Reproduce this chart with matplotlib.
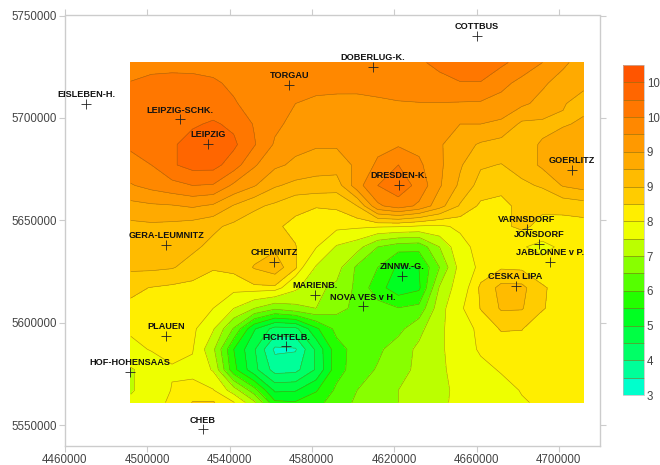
import numpy as np
import matplotlib
matplotlib.use("Agg")
import matplotlib.pyplot as plt
from matplotlib.colors import BoundaryNorm, ListedColormap

plt.rcParams['font.family'] = ['Liberation Sans', 'DejaVu Sans']

# Station positions
station_names = ["COTTBUS", "DOBERLUG-K.", "TORGAU", "EISLEBEN-H.", "LEIPZIG-SCHK.", "LEIPZIG",
                 "GOERLITZ", "DRESDEN-K.", "VARNSDORF", "JONSDORF", "JABLONNE v P.", "GERA-LEUMNITZ",
                 "CHEMNITZ", "ZINNW.-G.", "CESKA LIPA", "MARIENB.", "NOVA VES v H.", "PLAUEN",
                 "FICHTELB.", "HOF-HOHENSAAS", "CHEB"]
station_x = [4660000, 4609500, 4569000, 4470200, 4516100, 4529500,
             4706400, 4622500, 4684500, 4690400, 4695500, 4509300,
             4561600, 4623800, 4679000, 4581500, 4604800, 4509300,
             4567600, 4491600, 4527000]
station_y = [5740000, 5725000, 5716300, 5706800, 5699300, 5687300,
             5674600, 5667300, 5645700, 5638500, 5629700, 5638000,
             5629700, 5623000, 5618000, 5613500, 5608000, 5593500,
             5588500, 5576000, 5548000]

# Grid
grid_x = [4492000, 4502000, 4512000, 4522000, 4532000, 4542000, 4552000, 4562000,
          4572000, 4582000, 4592000, 4602000, 4612000, 4622000, 4632000, 4642000,
          4652000, 4662000, 4672000, 4682000, 4692000, 4702000, 4712000]
grid_y = [5727000, 5717000, 5707000, 5697000, 5687000, 5677000, 5667000, 5657000, 5647000,
          5637000, 5627000, 5617000, 5607000, 5597000, 5587000, 5577000, 5567000, 5561000]

row_00 = [9.40, 9.42, 9.42, 9.42, 9.42, 9.42, 9.42, 9.42, 9.42, 9.42, 9.40, 9.40, 9.40, 9.42, 9.47, 9.55, 9.62, 9.63, 9.55, 9.40, 9.25, 9.05, 8.88]
row_01 = [9.51, 9.56, 9.58, 9.57, 9.53, 9.46, 9.38, 9.34, 9.33, 9.33, 9.33, 9.34, 9.36, 9.38, 9.40, 9.44, 9.49, 9.49, 9.32, 9.18, 9.04, 8.90, 8.78]
row_02 = [9.58, 9.63, 9.66, 9.66, 9.62, 9.52, 9.42, 9.33, 9.25, 9.20, 9.18, 9.17, 9.20, 9.23, 9.24, 9.24, 9.23, 9.22, 9.16, 9.05, 8.92, 8.76, 8.70]
row_03 = [9.62, 9.66, 9.68, 9.72, 9.78, 9.70, 9.48, 9.30, 9.18, 9.13, 9.11, 9.09, 9.09, 9.08, 9.06, 9.03, 9.00, 9.00, 8.95, 8.70, 8.70, 8.73, 8.78]
row_04 = [9.54, 9.62, 9.72, 9.84, 9.88, 9.80, 9.52, 9.22, 9.07, 9.03, 9.03, 9.07, 9.17, 9.22, 9.18, 9.03, 8.85, 8.72, 8.65, 8.68, 8.77, 8.86, 8.88]
row_05 = [9.42, 9.50, 9.72, 9.84, 9.84, 9.62, 9.28, 9.05, 8.95, 8.87, 8.87, 9.05, 9.30, 9.50, 9.30, 9.05, 8.78, 8.53, 8.49, 8.60, 8.80, 8.92, 8.91]
row_06 = [9.23, 9.33, 9.42, 9.50, 9.48, 9.20, 9.02, 8.78, 8.68, 8.65, 8.62, 9.15, 9.50, 9.65, 9.42, 9.03, 8.70, 8.40, 8.28, 8.45, 8.53, 8.77, 8.85]
row_07 = [8.92, 8.96, 8.98, 9.03, 8.96, 8.73, 8.55, 8.45, 8.30, 8.26, 8.28, 8.50, 9.20, 9.38, 9.20, 8.85, 8.47, 8.20, 8.22, 8.28, 8.30, 8.33, 8.38]
row_08 = [8.68, 8.70, 8.68, 8.63, 8.55, 8.44, 8.35, 8.28, 8.20, 8.15, 8.12, 8.08, 8.05, 8.03, 7.97, 7.95, 8.05, 8.13, 8.20, 8.30, 8.18, 8.15, 8.15]
row_09 = [8.62, 8.60, 8.60, 8.55, 8.43, 8.35, 8.37, 8.45, 8.26, 8.03, 7.45, 7.20, 6.50, 6.20, 6.15, 7.00, 7.90, 8.10, 8.15, 8.02, 7.93, 8.05, 8.12]
row_10 = [8.55, 8.55, 8.52, 8.40, 8.27, 8.30, 8.52, 8.65, 8.30, 7.45, 7.20, 6.40, 6.00, 5.40, 5.50, 6.50, 7.70, 8.10, 8.22, 8.20, 8.10, 8.12, 8.15]
row_11 = [8.30, 8.24, 8.20, 8.17, 8.13, 8.14, 8.20, 8.20, 7.60, 7.10, 6.90, 6.38, 5.70, 5.20, 5.40, 7.05, 7.80, 8.30, 8.58, 8.57, 8.28, 8.15, 8.12]
row_12 = [8.20, 8.17, 8.15, 8.12, 8.00, 7.50, 7.00, 6.60, 6.85, 7.00, 6.65, 6.38, 6.20, 6.02, 6.15, 7.30, 7.95, 8.26, 8.53, 8.52, 8.27, 8.13, 8.10]
row_13 = [8.07, 8.12, 8.13, 8.10, 7.55, 6.45, 5.05, 4.30, 4.35, 5.40, 6.15, 6.30, 6.25, 6.35, 6.85, 7.40, 7.80, 8.10, 8.27, 8.26, 8.10, 8.10, 8.10]
row_14 = [7.88, 8.03, 8.08, 8.03, 7.10, 5.50, 4.55, 3.40, 3.45, 4.60, 5.80, 6.20, 6.40, 6.75, 7.10, 7.40, 7.80, 8.05, 8.12, 8.12, 8.10, 8.08, 8.08]
row_15 = [7.45, 7.72, 7.97, 7.90, 7.45, 5.65, 4.65, 3.80, 3.85, 4.55, 5.80, 6.25, 6.55, 6.85, 7.10, 7.40, 7.70, 7.90, 8.03, 8.08, 8.10, 8.10, 8.10]
row_16 = [7.45, 7.72, 8.02, 8.12, 8.03, 7.25, 6.20, 4.90, 4.95, 5.45, 6.10, 6.50, 6.75, 7.00, 7.20, 7.40, 7.60, 7.75, 7.88, 8.02, 8.08, 8.12, 8.12]
row_17 = [7.60, 7.85, 8.07, 8.26, 8.27, 8.03, 7.10, 5.60, 5.55, 5.80, 6.30, 6.57, 6.80, 7.00, 7.20, 7.42, 7.60, 7.75, 7.88, 7.97, 8.05, 8.10, 8.15]

# Colour classes
levels = [3, 3.5, 4, 4.5, 5, 5.5, 6, 6.5, 7, 7.5, 8, 8.25, 8.5, 8.75, 9, 9.25, 9.5, 9.75, 10, 10.5]
band_colors = ['#00FFCC', '#00FF99', '#00FF66', '#00FF44', '#00FF22', '#22FF00', '#55FF00',
               '#88FF00', '#BBFF00', '#EEFF00', '#FFEE00', '#FFCC00', '#FFBB00', '#FFAA00',
               '#FF9900', '#FF8800', '#FF7700', '#FF6600', '#FF5500']
cbar_ticks = [3, 4, 5, 6, 7, 8, 8.5, 9, 9.5, 10]
cbar_labels = ['3', '4', '5', '6', '7', '8', '9', '9', '10', '10']

x_ticks = [4460000, 4500000, 4540000, 4580000, 4620000, 4660000, 4700000]
y_ticks = [5550000, 5600000, 5650000, 5700000, 5750000]

z = np.array([row_00, row_01, row_02, row_03, row_04, row_05, row_06, row_07, row_08,
              row_09, row_10, row_11, row_12, row_13, row_14, row_15, row_16, row_17])

W, H = 660, 465
fig = plt.figure(figsize=(W / 100, H / 100), dpi=100)
ax = fig.add_axes([65 / W, 1 - 445.5 / H, 535 / W, 430 / H])

cmap = ListedColormap(band_colors)
norm = BoundaryNorm(levels, cmap.N)
cf = ax.contourf(grid_x, grid_y, z, levels=levels, cmap=cmap, norm=norm)
ax.contour(grid_x, grid_y, z, levels=levels, colors='#6b5a10', linewidths=0.4, alpha=0.6)

ax.plot(station_x, station_y, linestyle='none', marker='+', color='#222222', markersize=6.5, markeredgewidth=0.6)
for name, sx, sy in zip(station_names, station_x, station_y):
    ax.annotate(name, (sx, sy), xytext=(0, 3.3), textcoords='offset points', ha='center', va='bottom',
                fontsize=6.6, fontweight='bold', color='#111111')

ax.set_xlim(4460000, 4720000)
ax.set_ylim(5540000, 5750000)
ax.set_xticks(x_ticks)
ax.set_yticks(y_ticks)
ax.ticklabel_format(style='plain', useOffset=False)
ax.tick_params(top=True, right=True, length=4.3, width=0.8, color='#cccccc', labelsize=8.3, labelcolor='#444444', pad=1.5)
for spine in ax.spines.values():
    spine.set_color('#cccccc')
    spine.set_linewidth(1.0)

# Colour scale
cax = fig.add_axes([623 / W, 1 - 395 / H, 21 / W, 330 / H])
cbar = fig.colorbar(cf, cax=cax, spacing='uniform', drawedges=True)
cbar.set_ticks(cbar_ticks)
cbar.set_ticklabels(cbar_labels)
cbar.ax.minorticks_off()
cbar.ax.tick_params(length=0, labelsize=8.3, labelcolor='#444444', pad=2)
cbar.dividers.set_color('#8a6a10')
cbar.dividers.set_linewidth(0.4)
cbar.outline.set_edgecolor('#bbbbbb')
cbar.outline.set_linewidth(0.5)

fig.savefig("out.png", dpi=100)
